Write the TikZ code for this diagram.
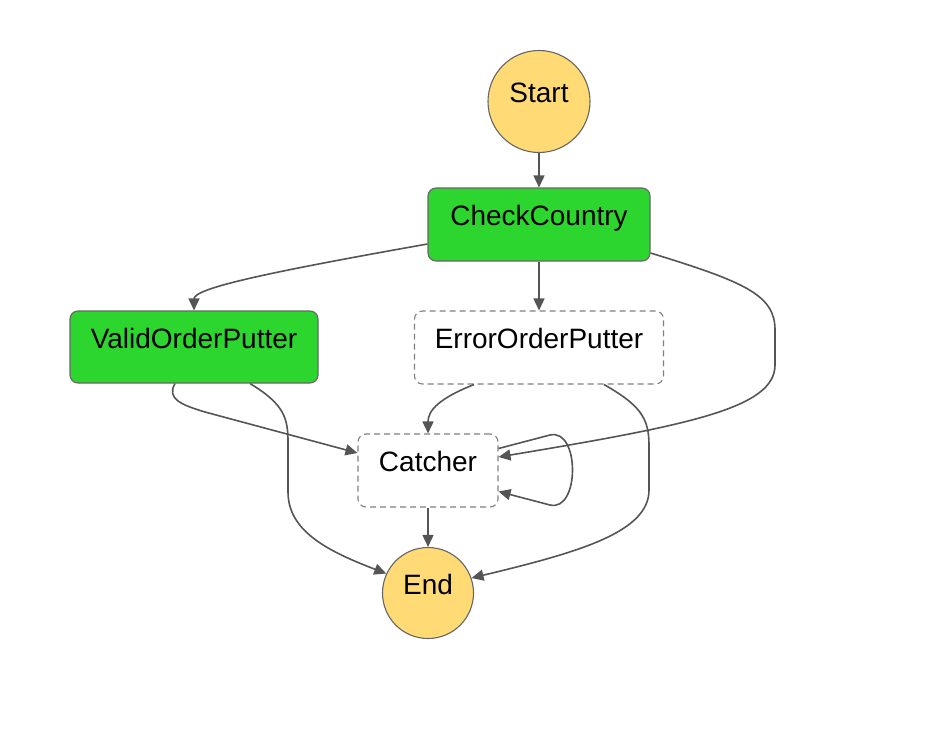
\documentclass[tikz,border=0pt]{standalone}
\usepackage{fontspec}
\setmainfont{Liberation Sans}
\usepackage{xcolor}
\definecolor{cTask}{HTML}{2DD62F}
\definecolor{cTerm}{HTML}{FFDA75}
\definecolor{cLine}{HTML}{555555}
\definecolor{cBorder}{HTML}{666666}
\definecolor{cDash}{HTML}{808080}
\usepackage{tikz}
\usetikzlibrary{positioning,arrows.meta,calc}
\tikzset{
  node-box/.style={draw=cBorder,line width=1.1pt,rounded corners=8pt,
    minimum height=73pt,inner sep=0pt,align=center,
    font=\fontsize{28}{32}\selectfont,text height=20pt,text depth=18pt},
  node-task/.style={node-box,fill=cTask},
  node-catch/.style={node-box,draw=cDash,dash pattern=on 6pt off 4pt,fill=white},
  node-term/.style={draw=cBorder,line width=1.1pt,circle,fill=cTerm,inner sep=0pt,
    font=\fontsize{28}{32}\selectfont,text height=20pt,text depth=18pt},
  arrow/.style={-{Triangle[length=12pt,width=11pt]},line width=1.6pt,draw=cLine},
}
\begin{document}
\begin{tikzpicture}[x=1pt,y=-1pt]
  \useasboundingbox (0,0) rectangle (928,744);
  \node[node-term,minimum size=102pt] (start) at (539,101.5) {Start};
  \node[node-task,minimum width=222pt] (check) at (539,224.5) {CheckCountry};
  \node[node-task,minimum width=248pt,minimum height=72pt] (valid) at (194,347) {ValidOrderPutter};
  \node[node-catch,minimum width=249pt] (error) at (539,347.5) {ErrorOrderPutter};
  \node[node-catch,minimum width=140pt] (catcher) at (428,470.5) {Catcher};
  \node[node-term,minimum size=91pt] (end) at (428,593) {End};
  % straight links
  \draw[arrow] (start) -- (check);
  \draw[arrow] (check.south) -- (error.north);
  \draw[arrow] (catcher.south) -- (end.north);
  % curved links
  \draw[arrow] ($(check.west)+(0,19.5)$) .. controls (270,272) and (194,288) .. (valid.north);
  \draw[arrow] ($(check.east)+(0,28.5)$) .. controls (745,282) and (775,295) .. (775,330)
    -- (775,365) .. controls (775,408) and (690,425) .. ($(catcher.east)+(0,-13.5)$);
  \draw[arrow] ($(valid.south)+(-19,0)$) .. controls (166,399) and (182,405) .. (205,412)
    -- ($(catcher.west)+(0,-17.5)$);
  \draw[arrow] ($(valid.south)+(56,0)$) .. controls (284,404) and (288,418) .. (288,442)
    -- (288,492) .. controls (288,532) and (330,552) .. (end.155);
  \draw[arrow] ($(error.south)+(-65,0)$) .. controls (440,398) and (428,410) .. (catcher.north);
  \draw[arrow] ($(error.south)+(65,0)$) .. controls (640,405) and (649,418) .. (649,445)
    -- (649,490) .. controls (649,532) and (580,552) .. (end.19);
  \draw[arrow] ($(catcher.east)+(0,-22)$) -- (550,435) .. controls (580,428) and (580,512)
    .. (550,505) -- ($(catcher.east)+(0,21)$);
\end{tikzpicture}
\end{document}
